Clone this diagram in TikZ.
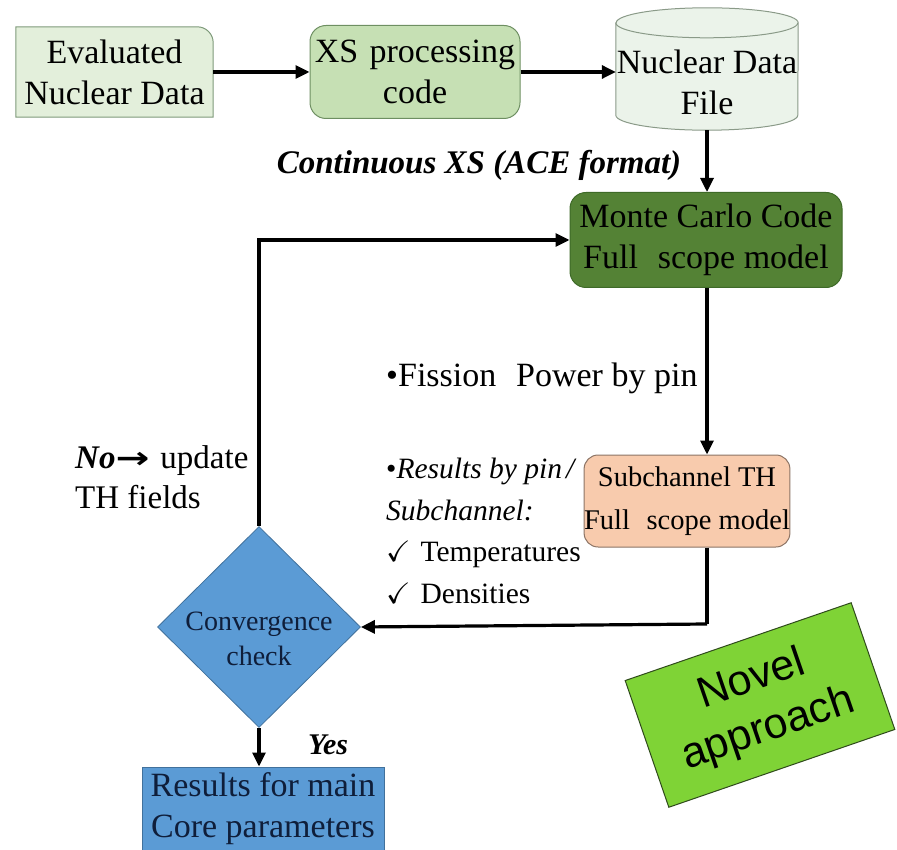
\documentclass[tikz,border=0pt]{standalone}
\usepackage{fontspec}
\usepackage{amssymb}
\usepackage{graphicx}
\setmainfont{Liberation Serif}
\newfontfamily\arialfont{Liberation Sans}
\newfontfamily\dejavufont{DejaVu Sans}
\usetikzlibrary{arrows.meta,shapes.geometric}

\definecolor{evfill}{HTML}{E3EFDB}
\definecolor{evline}{HTML}{7E9A7A}
\definecolor{xsfill}{HTML}{C6E0B4}
\definecolor{xsline}{HTML}{6E8F62}
\definecolor{cylfill}{HTML}{EBF3EA}
\definecolor{cylline}{HTML}{8A9A88}
\definecolor{mcfill}{HTML}{548235}
\definecolor{mcline}{HTML}{3E6A28}
\definecolor{scfill}{HTML}{F8CBAD}
\definecolor{scline}{HTML}{8C7465}
\definecolor{bluefill}{HTML}{5B9BD5}
\definecolor{blueline}{HTML}{41719C}
\definecolor{navytext}{HTML}{0F1E3A}
\definecolor{novelfill}{HTML}{7FD336}
\definecolor{novelline}{HTML}{2F4A1C}

\tikzset{
  big/.style={font=\fontsize{34}{41}\selectfont},
  boxtext/.style={big, align=center, inner sep=0pt},
  flow/.style={line width=3.2pt, -{Triangle[length=14pt,width=13pt]}},
  flowline/.style={line width=3.2pt},
}

\begin{document}
\begin{tikzpicture}[x=1pt,y=-1pt]
\useasboundingbox (0,0) rectangle (897,850);

% --- input data chain -------------------------------------------------
\node[boxtext, minimum width=197pt, minimum height=90pt] (ev) at (114.5,72) {};
\filldraw[fill=evfill, draw=evline, line width=1pt]
  (ev.south west) -- (ev.north west) -- ([xshift=-16pt]ev.north east)
  arc[start angle=90, end angle=0, radius=16pt] -- (ev.south east) -- cycle;
\node[boxtext] (evtxt) at (ev.center) {Evaluated\\Nuclear Data};

\node[boxtext, minimum width=210pt, minimum height=93pt, rounded corners=16pt,
      fill=xsfill, draw=xsline, line width=1pt] (xs) at (415,72)
      {XS\,\,processing\\code};

% storage cylinder
\node[boxtext, minimum width=182pt, minimum height=122pt] (ndf) at (707,69) {};
\filldraw[fill=cylfill, draw=cylline, line width=1pt]
  ([yshift=-15pt]ndf.north west) -- ([yshift=15pt]ndf.south west)
  arc[start angle=180, end angle=360, x radius=91pt, y radius=15pt]
  -- ([yshift=-15pt]ndf.north east)
  arc[start angle=0, end angle=180, x radius=91pt, y radius=15pt] -- cycle;
\draw[draw=cylline, line width=1pt] ([yshift=-15pt]ndf.north west)
  arc[start angle=180, end angle=360, x radius=91pt, y radius=15pt];
\node[boxtext] (ndftxt) at ([yshift=-13pt]ndf.center) {Nuclear Data\\File};

\draw[flow] (ev.east) -- (xs.west);
\draw[flow] (xs.east) -- (xs.east -| ndf.west);

\node[font=\fontsize{33}{38}\selectfont\bfseries\itshape, inner sep=0pt]
  (ace) at (479,165) {Continuous XS (ACE format)};

% --- coupled calculation loop -----------------------------------------
\node[boxtext, minimum width=272pt, minimum height=95pt, rounded corners=16pt,
      fill=mcfill, draw=mcline, line width=1pt] (mc) at (706,240)
      {Monte Carlo Code\\Full\,\, scope model};

\node[boxtext, minimum width=200pt, minimum height=92pt, rounded corners=14pt,
      fill=scfill, draw=scline, line width=1pt,
      font=\fontsize{28.5}{43}\selectfont] (sc) at (687,501)
      {Subchannel TH\\Full\,\, scope model};

\node[diamond, minimum width=203pt, minimum height=201pt, inner sep=0pt,
      fill=bluefill, draw=blueline, line width=0.8pt] (conv) at (259,627) {};
\node[align=center, inner sep=0pt, text=navytext,
      font=\fontsize{28}{35}\selectfont] (convtxt) at ([yshift=-12pt]conv.center)
      {Convergence\\check};

\node[boxtext, minimum width=242pt, minimum height=84pt, text=navytext,
      fill=bluefill, draw=blueline, line width=1pt] (res) at (263,809)
      {Results for main\\Core parameters};

\coordinate (scdown) at (707,624);

\draw[flow] (ndf.south) -- (mc.north -| ndf.south);
\draw[flow] (mc.south -| scdown) -- (sc.north -| scdown);
\draw[flowline] (sc.south -| scdown) -- (scdown);
\draw[flow] (scdown) -- (conv.east);
\draw[flow] (conv.north) |- (mc.west);
\draw[flow] (conv.south) -- (conv.south |- res.north);

% --- labels -------------------------------------------------------------
\node[big, inner sep=0pt, anchor=west] (fis) at (386,378)
  {\textbullet Fission\,\, Power by pin};

\node[align=left, inner sep=0pt, anchor=north west,
      font=\fontsize{29.5}{41.5}\selectfont] (pinres) at (386,458)
  {\textbullet\textit{Results by pin\kern4pt/}\\
   \textit{Subchannel:}\\
   $\checkmark$\,\,Temperatures\\
   $\checkmark$\,\,Densities};

\node[align=left, inner sep=0pt, anchor=west,
      font=\fontsize{33}{40}\selectfont] (nolab) at (75,477)
  {\textbf{\textit{No}}\scalebox{1.35}[1]{\dejavufont\bfseries\fontsize{30}{30}\selectfont →}\,\,update\\TH fields};

\node[font=\fontsize{30}{36}\selectfont\bfseries\itshape, inner sep=0pt]
  (yes) at (328,745) {Yes};

% highlighted tag
\node[rotate=19, minimum width=239pt, minimum height=134pt, align=center,
      fill=novelfill, draw=novelline, line width=1pt, inner sep=0pt,
      font=\arialfont\fontsize{43}{52}\selectfont] (novel) at (760,705)
  {Novel\\approach};

\end{tikzpicture}
\end{document}
